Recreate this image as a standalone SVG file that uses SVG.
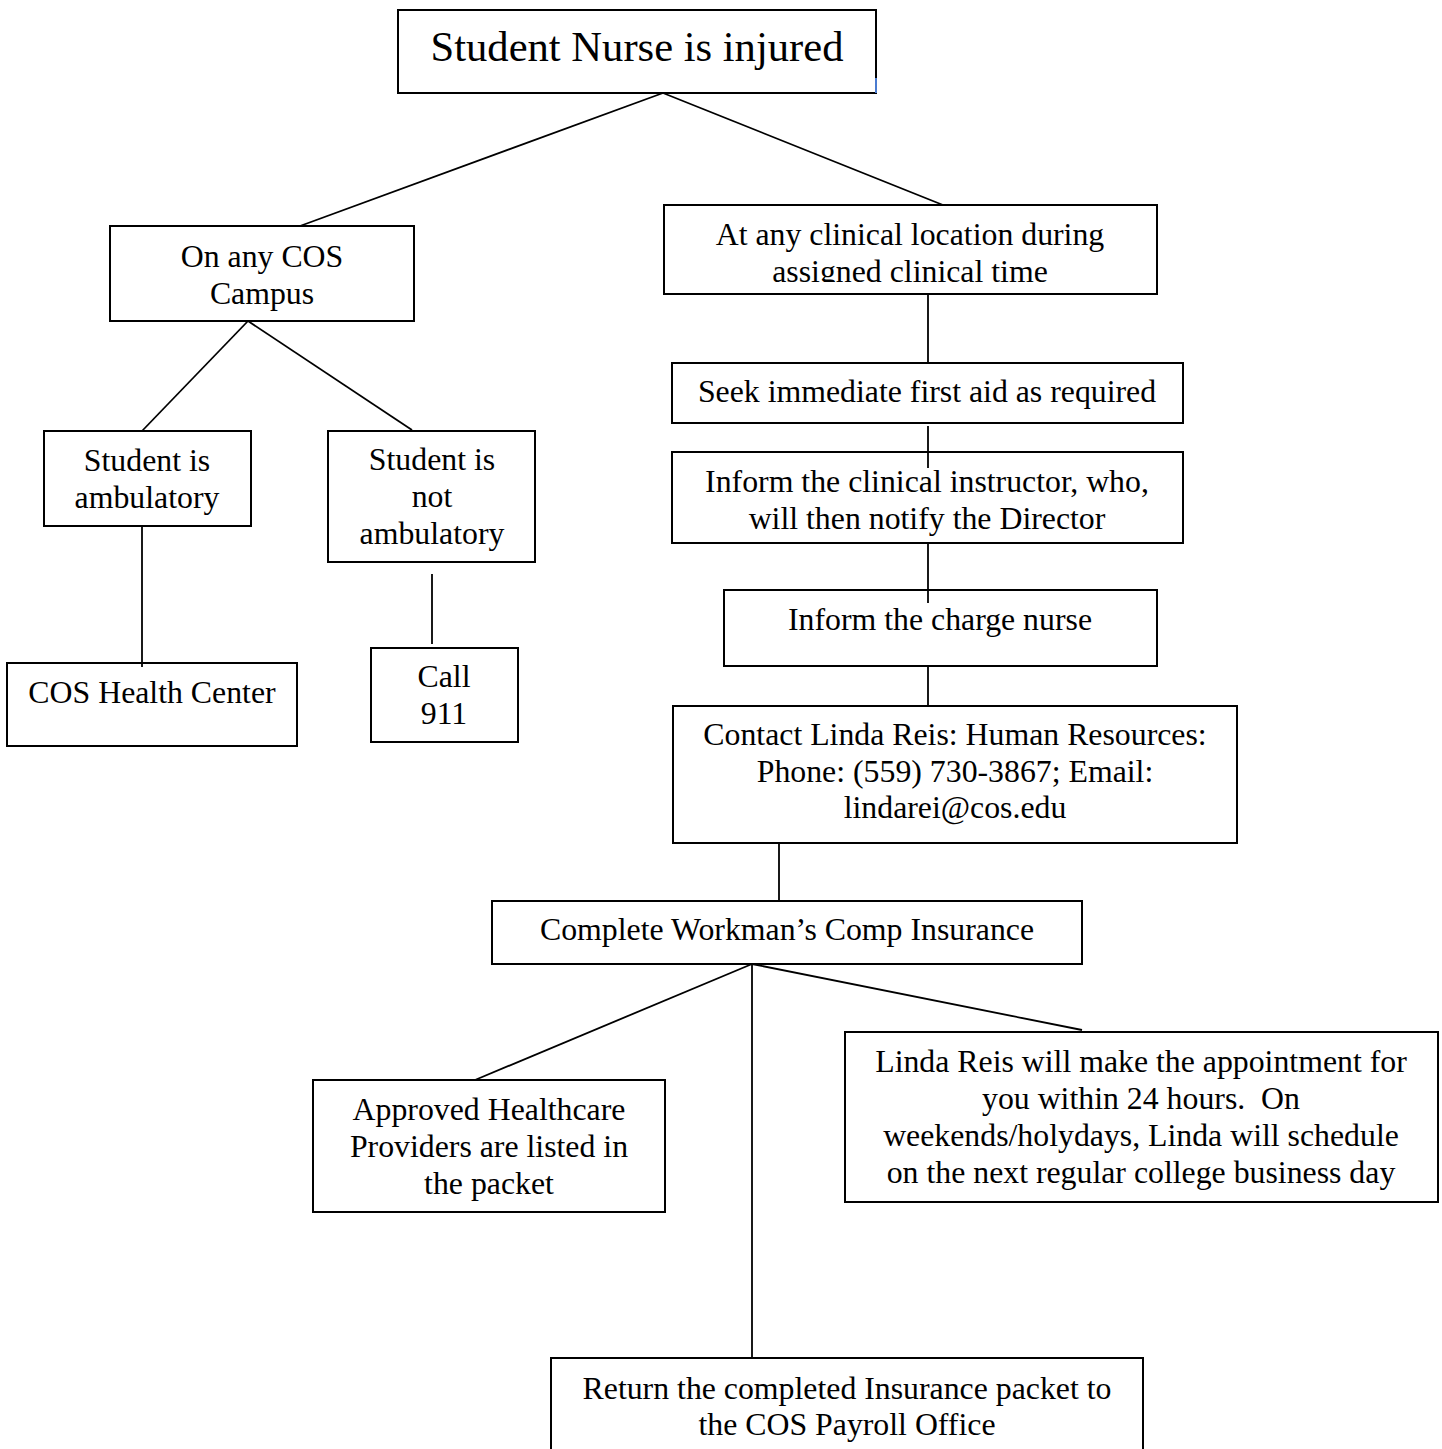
<svg xmlns="http://www.w3.org/2000/svg" width="1442" height="1449" viewBox="0 0 1442 1449">
<style>
.box{fill:#fff;stroke:#000;stroke-width:2}
.t{font-family:"Liberation Serif","Times New Roman",serif;font-size:31.8px;fill:#000;text-anchor:middle}
.big{font-size:42.6px}
.c line{stroke:#000;stroke-width:1.8}
</style>
<defs>
<clipPath id="clipClin"><rect x="664" y="205" width="493" height="77"/></clipPath>
</defs>
<rect width="1442" height="1449" fill="#fff"/>
<g id="n-top"><rect class="box" x="398" y="10" width="478" height="83"/><line x1="876" y1="78" x2="876" y2="93" stroke="#4a7bd0" stroke-width="2"/><text class="t big" x="637" y="61">Student Nurse is injured</text></g>
<g id="n-campus"><rect class="box" x="110" y="226" width="304" height="95"/><text class="t" x="262" y="267">On any COS</text><text class="t" x="262" y="304">Campus</text></g>
<g id="n-clinical"><rect class="box" x="664" y="205" width="493" height="89"/><g clip-path="url(#clipClin)"><text class="t" x="910" y="245">At any clinical location during</text><text class="t" x="910" y="282">assigned clinical time</text></g></g>
<g id="n-amb"><rect class="box" x="44" y="431" width="207" height="95"/><text class="t" x="147" y="471">Student is</text><text class="t" x="147" y="508">ambulatory</text></g>
<g id="n-notamb"><rect class="box" x="328" y="431" width="207" height="131"/><text class="t" x="432" y="470">Student is</text><text class="t" x="432" y="507">not</text><text class="t" x="432" y="544">ambulatory</text></g>
<g id="n-health"><rect class="box" x="7" y="663" width="290" height="83"/><text class="t" x="152" y="703">COS Health Center</text></g>
<g id="n-911"><rect class="box" x="371" y="648" width="147" height="94"/><text class="t" x="444" y="687">Call</text><text class="t" x="444" y="724">911</text></g>
<g id="n-seek"><rect class="box" x="672" y="363" width="511" height="60"/><text class="t" x="927" y="402">Seek immediate first aid as required</text></g>
<g id="n-instructor"><rect class="box" x="672" y="452" width="511" height="91"/><text class="t" x="927" y="492">Inform the clinical instructor, who,</text><text class="t" x="927" y="529">will then notify the Director</text></g>
<g id="n-charge"><rect class="box" x="724" y="590" width="433" height="76"/><text class="t" x="940" y="630">Inform the charge nurse</text></g>
<g id="n-contact"><rect class="box" x="673" y="706" width="564" height="137"/><text class="t" x="955" y="745">Contact Linda Reis: Human Resources:</text><text class="t" x="955" y="782">Phone: (559) 730-3867; Email:</text><text class="t" x="955" y="818">lindarei@cos.edu</text></g>
<g id="n-workman"><rect class="box" x="492" y="901" width="590" height="63"/><text class="t" x="787" y="940">Complete Workman’s Comp Insurance</text></g>
<g id="n-approved"><rect class="box" x="313" y="1080" width="352" height="132"/><text class="t" x="489" y="1120">Approved Healthcare</text><text class="t" x="489" y="1157">Providers are listed in</text><text class="t" x="489" y="1194">the packet</text></g>
<g id="n-linda"><rect class="box" x="845" y="1032" width="593" height="170"/><text class="t" x="1141" y="1072">Linda Reis will make the appointment for</text><text class="t" x="1141" y="1109" xml:space="preserve">you within 24 hours.  On</text><text class="t" x="1141" y="1146">weekends/holydays, Linda will schedule</text><text class="t" x="1141" y="1183">on the next regular college business day</text></g>
<g id="n-return"><rect class="box" x="551" y="1358" width="592" height="100"/><text class="t" x="847" y="1399">Return the completed Insurance packet to</text><text class="t" x="847" y="1435">the COS Payroll Office</text></g>
<g id="connectors" class="c">
<line x1="663" y1="93" x2="300" y2="226"/>
<line x1="663" y1="93" x2="943" y2="205"/>
<line x1="248" y1="321" x2="142" y2="431"/>
<line x1="248" y1="321" x2="412" y2="430"/>
<line x1="142" y1="526" x2="142" y2="667"/>
<line x1="432" y1="574" x2="432" y2="644"/>
<line x1="928" y1="294" x2="928" y2="363"/>
<line x1="928" y1="426" x2="928" y2="468"/>
<line x1="928" y1="543" x2="928" y2="603"/>
<line x1="928" y1="666" x2="928" y2="706"/>
<line x1="779" y1="843" x2="779" y2="901"/>
<line x1="752" y1="964" x2="475" y2="1080"/>
<line x1="752" y1="964" x2="752" y2="1357"/>
<line x1="752" y1="964" x2="1082" y2="1030"/>
</g>
</svg>
